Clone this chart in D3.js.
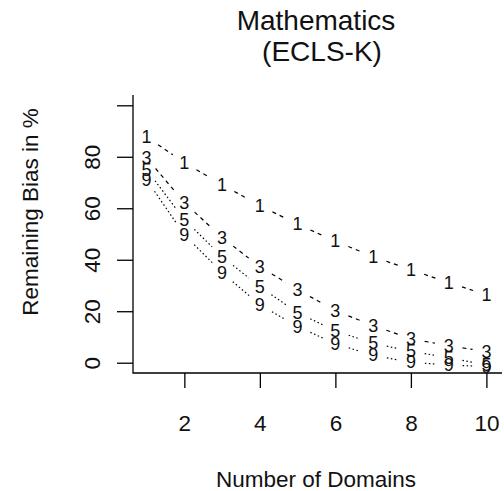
<!DOCTYPE html>
<html>
<head>
<meta charset="utf-8">
<script src="https://cdn.jsdelivr.net/npm/d3@7"></script>
<style>
  html, body { margin: 0; padding: 0; background: #fff; }
  svg { display: block; }
  text { font-family: "Liberation Sans", Arial, Helvetica, sans-serif; fill: #111; }
</style>
</head>
<body>
<svg id="chart" width="504" height="491"></svg>
<script>
// ---- data ----
const domains = [1, 2, 3, 4, 5, 6, 7, 8, 9, 10];
const series1 = [87.8, 77.7, 69.2, 61.0, 53.8, 47.2, 41.2, 36.1, 31.1, 26.4];
const series3 = [79.6, 62.2, 48.6, 37.3, 28.4, 20.2, 14.4, 9.3, 6.6, 4.3];
const series5 = [75.0, 55.6, 41.2, 29.5, 19.4, 12.4, 7.5, 4.5, 1.9, -0.8];
const series9 = [71.1, 49.7, 35.0, 22.5, 14.0, 7.4, 2.8, 0.2, -0.9, -1.5];
const seriesLabels = ["1", "3", "5", "9"];
const xTicks = [2, 4, 6, 8, 10];
const yTicks = [0, 20, 40, 60, 80, 100];
const yTickLabels = ["0", "20", "40", "60", "80", ""];
const titleLines = ["Mathematics", "(ECLS-K)"];
const xTitle = "Number of Domains";
const yTitle = "Remaining Bias in %";

const allSeries = [series1, series3, series5, series9];
const dashes = ["4,4", "4,4", "1.5,2.5", "1.5,2.5"];

// ---- layout ----
const svg = d3.select("#chart");
const pLeft = 133, pRight = 500, pTop = 95, pBottom = 373;
const x = d3.scaleLinear().domain([0.64, 10.36]).range([pLeft, pRight]);
const y = d3.scaleLinear().domain([-4, 104]).range([pBottom, pTop]);

// box (L shape)
svg.append("path")
  .attr("d", `M${pLeft},${pTop}V${pBottom}H${pRight + 2}`)
  .attr("fill", "none").attr("stroke", "#000").attr("stroke-width", 1.3);

// x axis
const gx = svg.append("g").attr("transform", `translate(0,${pBottom})`)
  .call(d3.axisBottom(x).tickValues(xTicks).tickSize(15).tickSizeOuter(0).tickFormat(d3.format("d")));
gx.select(".domain").remove();
gx.attr("font-family", null).attr("font-size", null);
gx.selectAll(".tick line").attr("stroke", "#000").attr("stroke-width", 1.3);
gx.selectAll(".tick text")
  .attr("y", 50).attr("dy", "0.36em")
  .attr("fill", "#111")
  .style("font-size", "22.5px");

// y axis
const gy = svg.append("g").attr("transform", `translate(${pLeft},0)`)
  .call(d3.axisLeft(y).tickValues(yTicks).tickSize(16).tickSizeOuter(0)
        .tickFormat((d, i) => yTickLabels[i]));
gy.select(".domain").remove();
gy.attr("font-family", null).attr("font-size", null);
gy.selectAll(".tick line").attr("stroke", "#000").attr("stroke-width", 1.3);
gy.selectAll(".tick text")
  .attr("x", null).attr("dy", null)
  .attr("transform", "translate(-33,0) rotate(-90)")
  .attr("text-anchor", "middle")
  .attr("y", 0)
  .attr("fill", "#111")
  .style("font-size", "22.5px");

// lines with gaps (type = "b")
const gap = 14;
allSeries.forEach((vals, si) => {
  const pts = domains.map((d, i) => [x(d), y(vals[i])]);
  for (let i = 0; i < pts.length - 1; i++) {
    const [x0, y0] = pts[i], [x1, y1] = pts[i + 1];
    const dx = x1 - x0, dy = y1 - y0, len = Math.hypot(dx, dy);
    if (len <= 2 * gap) continue;
    const ux = dx / len, uy = dy / len;
    svg.append("line")
      .attr("x1", x0 + ux * gap).attr("y1", y0 + uy * gap)
      .attr("x2", x1 - ux * gap).attr("y2", y1 - uy * gap)
      .attr("stroke", "#000").attr("stroke-width", 1.2)
      .attr("stroke-dasharray", dashes[si]);
  }
  svg.append("g").selectAll("text").data(vals).join("text")
    .attr("x", (v, i) => x(domains[i]))
    .attr("y", v => y(v))
    .attr("text-anchor", "middle")
    .attr("dominant-baseline", "central")
    .style("font-size", "18px")
    .text(seriesLabels[si]);
});

// titles
svg.append("text").attr("x", 316).attr("y", 30).attr("text-anchor", "middle")
  .style("font-size", "28px").text(titleLines[0]);
svg.append("text").attr("x", 322).attr("y", 61).attr("text-anchor", "middle")
  .style("font-size", "28px").text(titleLines[1]);
svg.append("text").attr("x", 316).attr("y", 487).attr("text-anchor", "middle")
  .style("font-size", "22.5px").text(xTitle);
svg.append("text").attr("transform", "translate(38,212) rotate(-90)")
  .attr("text-anchor", "middle")
  .style("font-size", "22.5px").text(yTitle);
</script>
</body>
</html>
